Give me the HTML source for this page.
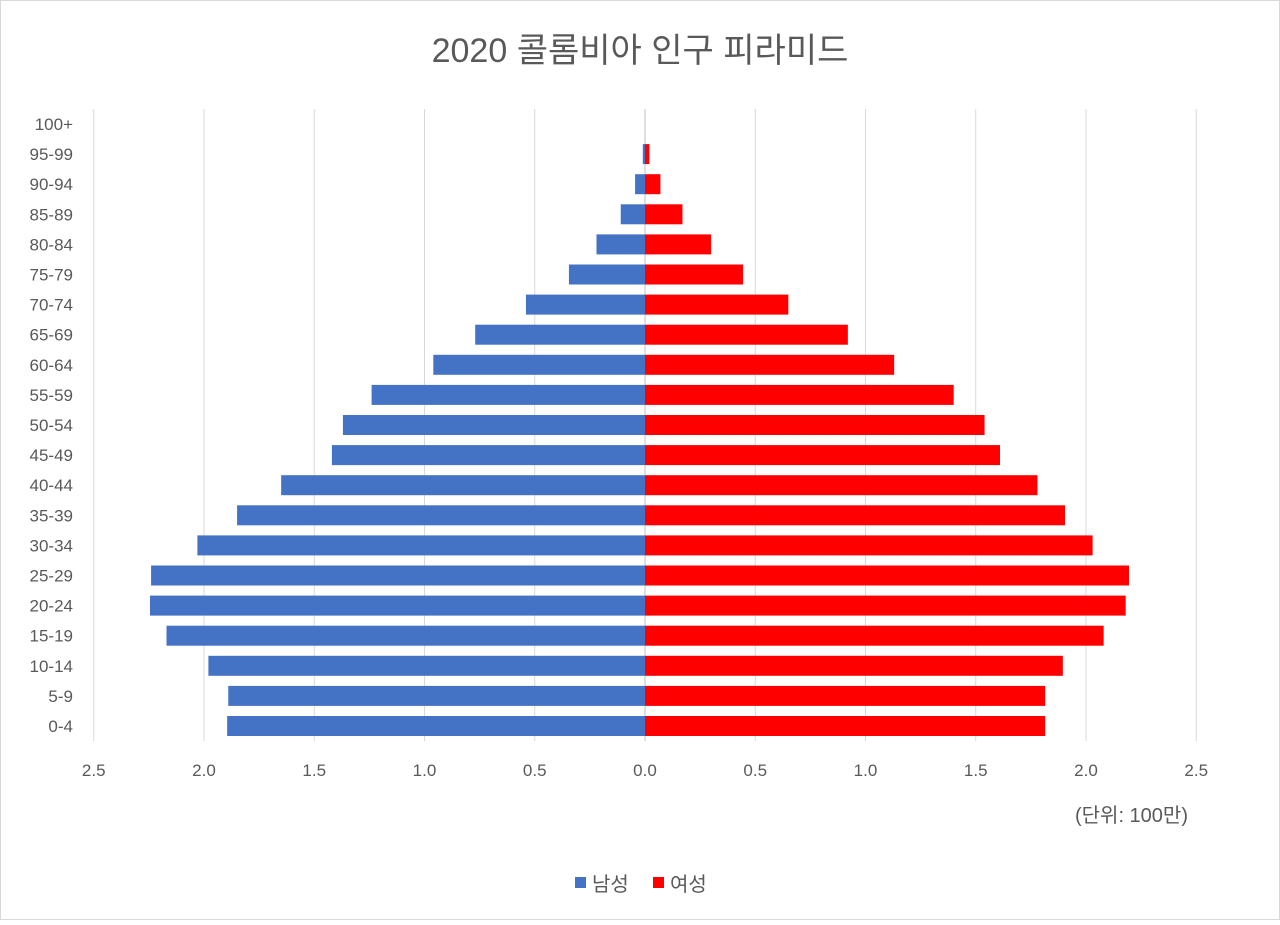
<!DOCTYPE html>
<html><head><meta charset="utf-8"><style>
body{margin:0;background:#fff;}
svg text{font-family:"Liberation Sans","Noto Sans CJK KR",sans-serif;fill:#595959;}
</style></head><body>
<svg width="1280" height="920">
<rect x="0.5" y="0.5" width="1279" height="919" fill="#fff" stroke="#d9d9d9"/>
<text x="640" y="62" font-size="34" text-anchor="middle">2020 콜롬비아 인구 피라미드</text>
<g id="grid"></g><g id="bars"></g><g id="labels"></g>
<text x="1188" y="822" font-size="20" text-anchor="end">(단위: 100만)</text>
<g>
<rect x="575" y="877" width="11" height="11" fill="#4472c4"/>
<text x="592" y="891" font-size="20">남성</text>
<rect x="653" y="877" width="11" height="11" fill="#ff0000"/>
<text x="670" y="891" font-size="20">여성</text>
</g>
</svg>
<script>
const categories=["100+","95-99","90-94","85-89","80-84","75-79","70-74","65-69","60-64","55-59","50-54","45-49","40-44","35-39","30-34","25-29","20-24","15-19","10-14","5-9","0-4"];
const maleValues=[0,0.01,0.045,0.11,0.22,0.345,0.54,0.77,0.96,1.24,1.37,1.42,1.65,1.85,2.03,2.24,2.245,2.17,1.98,1.89,1.895];
const femaleValues=[0,0.02,0.07,0.17,0.30,0.445,0.65,0.92,1.13,1.40,1.54,1.61,1.78,1.905,2.03,2.195,2.18,2.08,1.895,1.815,1.815];
const tickValues=[-2.5,-2,-1.5,-1,-0.5,0,0.5,1,1.5,2,2.5];
const ns="http://www.w3.org/2000/svg";
const x0=645,scale=220.5,yTop=124,step=30.1,bh=20,axisTop=109,axisBottom=741;
const X=v=>x0+v*scale, Y=i=>yTop+i*step;
function mk(tag,attrs,parent){const e=document.createElementNS(ns,tag);for(const k in attrs)e.setAttribute(k,attrs[k]);document.getElementById(parent).appendChild(e);return e;}
tickValues.forEach(t=>{
 const l=mk('line',{x1:X(t),x2:X(t),y1:axisTop,y2:axisBottom,stroke:t===0?'#bfbfbf':'#d9d9d9','stroke-width':1},'grid');
 
 
 const tx=mk('text',{x:X(t),y:776,'font-size':17,'text-anchor':'middle'},'labels');
 tx.textContent=Math.abs(t).toFixed(1);
 
 
});
categories.forEach((c,i)=>{
 const y=Y(i);
 const tx=mk('text',{x:73,y:y+6,'font-size':17,'text-anchor':'end'},'labels');
 tx.textContent=c;
 
 
 const m=mk('rect',{x:X(-maleValues[i]),y:y-bh/2,width:maleValues[i]*scale,height:bh,fill:'#4472c4'},'bars');
 
 
 const f=mk('rect',{x:X(0),y:y-bh/2,width:femaleValues[i]*scale,height:bh,fill:'#ff0000'},'bars');
 
 
});
</script>
</body></html>
